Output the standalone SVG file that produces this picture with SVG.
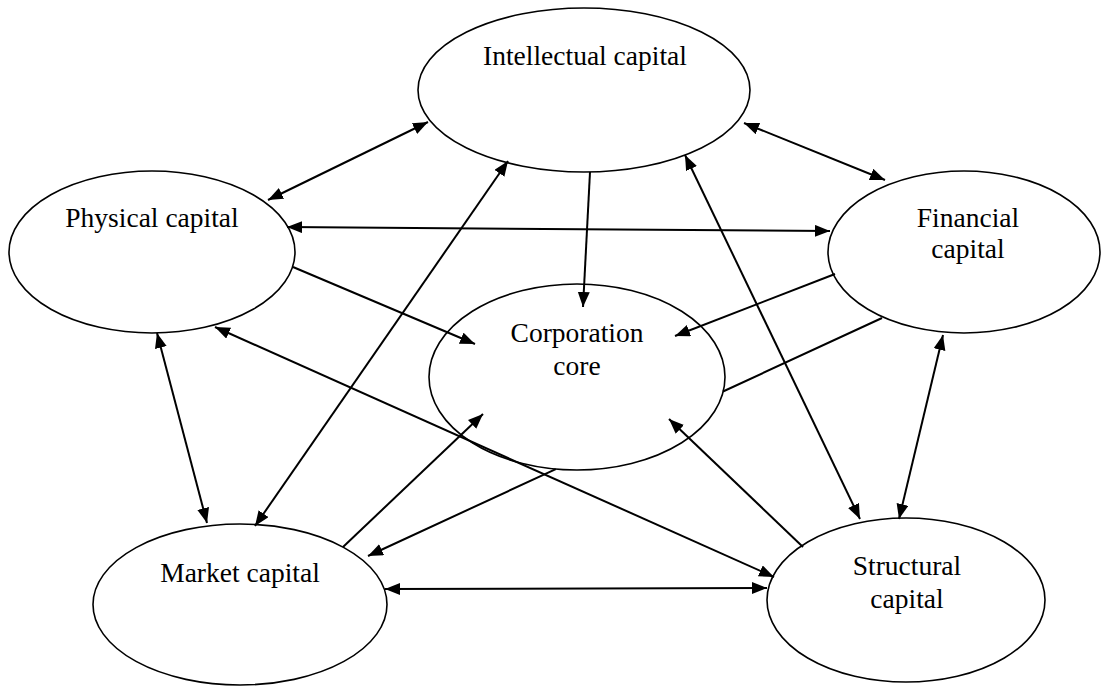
<svg xmlns="http://www.w3.org/2000/svg" width="1102" height="686" viewBox="0 0 1102 686">
<defs>
<marker id="ah" markerUnits="userSpaceOnUse" markerWidth="17" markerHeight="14" refX="15" refY="6" orient="auto-start-reverse">
<path d="M0,0 L15,6 L0,12 z" fill="#000"/>
</marker>
</defs>
<style>
.node ellipse{fill:#fff;stroke:#000;stroke-width:1.6}
.node text{font-family:"Liberation Serif","Times New Roman",serif;font-size:27.5px;fill:#000;text-anchor:middle}
.c{fill:none;stroke:#000;stroke-width:2}
.both{marker-start:url(#ah);marker-end:url(#ah)}
.end{marker-end:url(#ah)}
</style>
<rect width="1102" height="686" fill="#fff"/>
<g id="nodes">
<g id="intellectual" class="node"><ellipse cx="584" cy="90" rx="166" ry="82"/><text x="585" y="65">Intellectual capital</text></g>
<g id="physical" class="node"><ellipse cx="152" cy="252" rx="143" ry="81"/><text x="152" y="227">Physical capital</text></g>
<g id="financial" class="node"><ellipse cx="964" cy="252" rx="136" ry="81"/><text x="968" y="227">Financial</text><text x="968" y="258">capital</text></g>
<g id="core" class="node"><ellipse cx="577" cy="377" rx="148" ry="93"/><text x="577" y="342">Corporation</text><text x="577" y="375">core</text></g>
<g id="market" class="node"><ellipse cx="240" cy="604.5" rx="147" ry="80.5"/><text x="240" y="582">Market capital</text></g>
<g id="structural" class="node"><ellipse cx="906" cy="600" rx="139" ry="82"/><text x="907" y="575">Structural</text><text x="907" y="608">capital</text></g>
</g>
<g id="connectors">
<path class="c both" d="M268,200 L428,122"/>
<path class="c both" d="M744,123 L885,180"/>
<path class="c both" d="M287,227 L830,231"/>
<path class="c end" d="M590,172 L583,307"/>
<path class="c end" d="M293,267 L475,344"/>
<path class="c end" d="M835,274 L675,336"/>
<path class="c end" d="M882,318 L723,391.5 M555.8,469.1 L368,556"/>
<path class="c end" d="M343,547 L483,414"/>
<path class="c end" d="M803,547 L669,419"/>
<path class="c both" d="M685,155 L860,519"/>
<path class="c both" d="M508,161 L255,526"/>
<path class="c both" d="M157,333 L207,523"/>
<path class="c both" d="M943,335 L899,519"/>
<path class="c both" d="M385,589 L767,588"/>
<path class="c both" d="M215,327 L774,577"/>
</g>
</svg>
